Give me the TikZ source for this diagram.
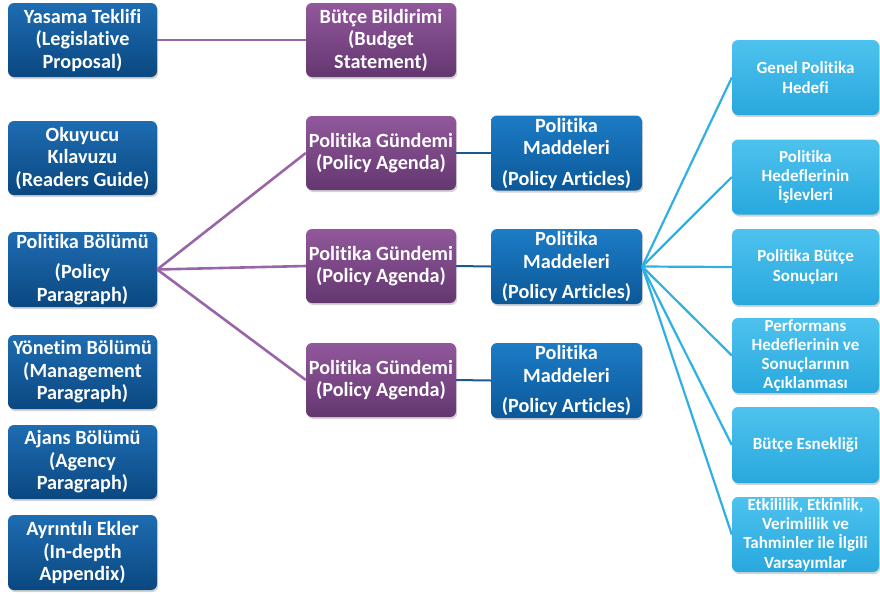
\documentclass[tikz,border=0pt]{standalone}
\usepackage{fontspec}
\setmainfont{Carlito}[Ligatures={NoCommon}]
\usetikzlibrary{shadows}
\definecolor{lbtop}{RGB}{30,108,178}
\definecolor{lbbot}{RGB}{10,72,128}
\definecolor{putop}{RGB}{145,88,155}
\definecolor{pubot}{RGB}{100,55,112}
\definecolor{mbtop}{RGB}{28,124,198}
\definecolor{mbbot}{RGB}{12,88,152}
\definecolor{cytop}{RGB}{78,194,238}
\definecolor{cybot}{RGB}{40,168,222}
\definecolor{puline}{RGB}{152,102,168}
\definecolor{cyline}{RGB}{48,176,226}
\definecolor{dbline}{RGB}{28,88,142}
\tikzset{
  boxbase/.style={rounded corners=6pt, text=white, align=center, inner sep=1pt,
    drop shadow={opacity=0.35, shadow xshift=1.2pt, shadow yshift=-2pt}},
  lbox/.style={boxbase, top color=lbtop, bottom color=lbbot, minimum width=149pt, minimum height=74pt,
    font=\fontsize{20.2}{22.5}\selectfont\bfseries},
  pbox/.style={boxbase, top color=putop, bottom color=pubot, minimum width=150pt, minimum height=74pt,
    font=\fontsize{20.2}{22.5}\selectfont\bfseries},
  mbox/.style={boxbase, top color=mbtop, bottom color=mbbot, minimum width=151pt, minimum height=75pt,
    font=\fontsize{20.2}{22.5}\selectfont\bfseries},
  cbox/.style={boxbase, top color=cytop, bottom color=cybot, minimum width=147pt, minimum height=75pt,
    font=\fontsize{17}{19.3}\selectfont\bfseries},
  puconn/.style={draw=puline, line width=2.6pt},
  cyconn/.style={draw=cyline, line width=2.2pt},
  dbconn/.style={draw=dbline, line width=2pt}
}
\begin{document}
\begin{tikzpicture}[x=1pt,y=-1pt]
\useasboundingbox (0,0) rectangle (880,595);
% left column
\node[lbox] (yasama) at (82.5,40) {Yasama Teklifi\\(Legislative\\Proposal)};
\node[lbox] (okuyucu) at (82.5,158) {Okuyucu\\Kılavuzu\\(Readers Guide)};
\node[lbox, minimum height=75pt] (polbol) at (82.5,269.5) {Politika Bölümü\\[8pt](Policy\\Paragraph)};
\node[lbox] (yonetim) at (82.5,372) {Yönetim Bölümü\\(Management\\Paragraph)};
\node[lbox] (ajans) at (82.5,462) {Ajans Bölümü\\(Agency\\Paragraph)};
\node[lbox, minimum height=75pt] (ekler) at (82.5,552.5) {Ayrıntılı Ekler\\(In-depth\\Appendix)};
% purple column
\node[pbox] (butce) at (381,40) {Bütçe Bildirimi\\(Budget\\Statement)};
\node[pbox] (pg1) at (381,153) {Politika Gündemi\\(Policy Agenda)};
\node[pbox] (pg2) at (381,266) {Politika Gündemi\\(Policy Agenda)};
\node[pbox] (pg3) at (381,380) {Politika Gündemi\\(Policy Agenda)};
% middle blue column
\node[mbox] (pm1) at (566.5,153) {Politika\\Maddeleri\\[8pt](Policy Articles)};
\node[mbox] (pm2) at (566.5,266.5) {Politika\\Maddeleri\\[8pt](Policy Articles)};
\node[mbox] (pm3) at (566.5,380.5) {Politika\\Maddeleri\\[8pt](Policy Articles)};
% cyan column
\node[cbox] (c1) at (805.5,77.5) {Genel Politika\\Hedefi};
\node[cbox] (c2) at (805.5,177) {Politika\\Hedeflerinin\\İşlevleri};
\node[cbox, minimum height=76pt] (c3) at (805.5,267) {Politika Bütçe\\Sonuçları};
\node[cbox] (c4) at (805.5,355.5) {Performans\\Hedeflerinin ve\\Sonuçlarının\\Açıklanması};
\node[cbox, minimum height=76pt] (c5) at (805.5,445) {Bütçe Esnekliği};
\node[cbox] (c6) at (805.5,534.5) {Etkililik, Etkinlik,\\Verimlilik ve\\Tahminler ile İlgili\\Varsayımlar};
% connectors
\draw[puconn] (yasama.east) -- (butce.west);
\draw[puconn] (polbol.east) -- (pg1.west);
\draw[puconn] (polbol.east) -- (pg2.west);
\draw[puconn] (polbol.east) -- (pg3.west);
\draw[dbconn] (pg1.east) -- (pm1.west);
\draw[dbconn] (pg2.east) -- (pm2.west);
\draw[dbconn] (pg3.east) -- (pm3.west);
\foreach \c in {c1,c2,c3,c4,c5,c6}{
  \draw[cyconn] (pm2.east) -- (\c.west);
}
\end{tikzpicture}
\end{document}
